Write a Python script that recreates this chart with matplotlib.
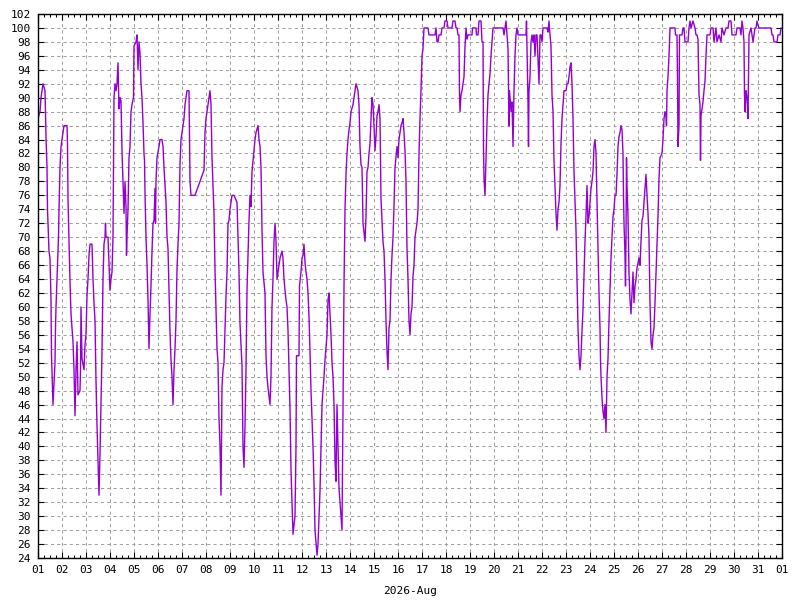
import matplotlib
matplotlib.use('Agg')
import matplotlib.pyplot as plt
from matplotlib.ticker import MultipleLocator, FixedLocator
import numpy as np

# relative humidity: (hours since 2026-08-01 00:00, %)
aug_01_08 = [
    (0, 87), (2, 88), (3, 90), (4, 91), (5, 92), (7, 91), (8, 84.4), (9, 80), (9.5, 74), (11, 68), (12, 67),
    (13, 61), (13.5, 53), (15, 46), (17, 52), (17.5, 57), (18, 60), (19, 64), (20.5, 70), (21, 74), (22, 80),
    (23, 83), (24, 84), (25, 85), (26, 86), (29, 86), (29.5, 83.4), (30, 75.4), (32, 63.6), (33, 59), (35, 55),
    (36, 51), (37, 44.4), (38, 51), (39, 55), (40, 47.4), (42, 48), (42.5, 51), (43, 60), (44, 52.6), (46, 51),
    (47, 54.6), (48, 56), (49, 61.6), (50, 64), (51, 67.4), (52, 69), (54, 69), (55, 64), (56, 60.6), (57, 58),
    (58, 49.4), (59, 43), (60, 38), (61, 33), (62, 39), (63, 46.6), (64, 53.6), (65, 64), (66, 69), (67, 70),
    (67.5, 72), (68, 70), (70, 70), (71, 66), (72, 62.4), (73, 64), (74, 65), (75, 70), (76, 90), (77, 92),
    (78, 91), (79, 92), (80, 95), (81, 88.4), (82, 90), (83, 89.5), (84, 82.4), (85, 78), (86, 73.4), (87, 78),
    (88, 74.4), (88.5, 67.4), (89, 70), (90, 74), (91, 81.4), (92, 83), (93, 88), (94, 89), (95.5, 90),
    (96, 97.4), (98, 98), (99, 99), (100, 94), (101, 98), (102, 96.4), (103, 92), (104, 90), (105, 86.4),
    (106, 82), (106.5, 81), (107, 76.4), (108, 70), (109, 66), (110, 61), (111, 54), (112, 59), (113, 63),
    (114, 68), (115, 72), (116, 72.4), (117, 77), (117.5, 72), (118, 78), (119, 81.4), (121, 83), (122, 84),
    (124, 84), (125, 83), (126, 80), (128, 75), (129, 70), (130, 68.4), (131, 62.4), (132, 56.4), (133, 52.4),
    (134, 50), (135, 46), (136, 51), (137, 54), (138, 58), (139, 65.4), (140, 69), (141, 72), (142, 80.4),
    (143, 84), (145, 86), (146, 87), (147, 89), (148, 90), (149, 91), (151, 91), (152, 78), (153, 76), (157, 76),
    (166, 79.6), (167, 85), (168, 87), (169, 88), (170, 89), (171, 90), (172, 91), (173, 89), (174, 81.4),
    (176, 73.4), (177, 65.4), (178, 60), (179, 54), (180, 52), (181, 44), (182, 40), (183, 33), (184, 48.6),
    (185, 51), (186, 52), (187, 56.6), (188, 61.6), (189, 65), (190, 72), (191, 72.4), (192, 74), (193, 75),
    (194, 76), (196, 76),
]
aug_09_16 = [
    (199, 75), (200, 70), (201, 65), (202, 57.6), (204, 51.6), (205, 40), (206, 37), (207, 43), (208, 51),
    (209, 62.4), (210, 67.4), (211, 72.4), (212, 76), (213, 74.4), (214, 79.4), (216, 82.4), (217, 84), (218, 85),
    (220, 86), (221, 84), (222, 83), (223, 80), (224, 71), (225, 65), (227, 62), (228, 53), (229, 50), (230, 48.4),
    (232, 46), (233, 50), (234, 60), (235, 64), (236, 69.4), (237, 72), (238, 69.4), (239, 64), (240, 65),
    (241, 66), (242, 67), (244, 68), (245, 67), (246, 64), (247, 62.4), (248, 61), (249, 60), (250, 56.6),
    (251, 51), (252, 45.4), (253, 36.6), (254, 32), (255, 27.4), (257, 30), (258, 40), (258.5, 53), (261, 53),
    (261.5, 63), (263, 65), (264, 67), (265, 67.4), (266, 69), (267, 66.4), (268, 65), (269, 64), (270, 62),
    (271, 58.6), (272, 53.6), (273, 48), (275, 40), (276, 34.6), (277, 28), (279, 24.4), (280, 26), (281, 30),
    (282, 33.6), (283, 40), (284, 46), (285, 48), (286, 50), (287, 52.4), (289, 56), (290, 61), (291, 62),
    (292, 59), (293, 56), (294, 52), (295, 50), (296, 46), (297, 38), (298, 35), (299, 46), (300, 40), (301, 34),
    (302, 32), (303, 30), (304, 28), (305, 46), (306, 63), (307, 74), (308, 79), (309, 82), (310, 84),
    (311, 85.4), (312, 86.4), (313, 88), (315, 89), (316, 90), (317, 91), (318, 92), (320, 91), (321, 89),
    (322, 83), (323, 80.4), (324, 80), (325, 72), (327, 69.4), (328, 73), (329, 79.4), (330, 80), (331, 82),
    (332, 83.4), (333, 87), (334, 90), (335, 89), (336, 86), (337, 82.4), (338, 84.4), (339, 87.4), (340, 88),
    (341, 89), (342, 87), (343, 75.4), (345, 69.4), (346, 68), (347, 64), (348, 58), (349, 53.6), (350, 51),
    (351, 57), (352, 58), (353, 64), (354, 67.4), (355, 70), (356, 74.4), (357, 80), (359, 83), (360, 81.4),
    (361, 84), (362, 85), (363, 86), (364, 86.4), (365, 87), (366, 85), (367, 82.4), (368, 78), (369, 68.4),
    (370, 64), (371, 58), (372, 56), (373, 59), (374, 60), (375, 64.4), (376, 66), (377, 70),
]
aug_17_24 = [
    (379, 72), (380, 74), (381, 82), (382, 87), (383, 91), (384, 96), (385, 97), (386, 100), (390, 100),
    (391, 99), (397, 99), (398, 100), (399, 98), (400, 98), (401, 99), (403, 99), (404, 100), (406, 100),
    (407, 101), (409, 101), (410, 100), (414, 100), (415, 101), (417, 101), (418, 100), (419, 100), (420, 99),
    (421, 99), (421.5, 90.4), (422, 88), (423, 90.4), (424, 91), (425, 92), (426, 93), (427, 97.4), (428, 100),
    (429, 98.4), (430, 99), (434, 99), (434.5, 100), (438, 100), (438.5, 99), (440, 99), (441, 101), (443, 101),
    (444, 98), (445, 98), (445.5, 83), (446, 78.4), (447, 76), (448, 81.4), (449, 86.4), (450, 90.4), (451, 92),
    (452, 93.4), (453, 96), (454, 98), (455, 100), (465, 100), (466, 99), (468, 101), (469, 99), (470, 97),
    (471, 86), (471.5, 91), (472, 90), (473, 88), (474, 89.4), (475, 83), (476, 91), (477, 96), (478, 99),
    (479, 100), (480, 99), (488, 99), (488.5, 101), (489, 97), (490, 89.4), (490.5, 83), (491, 91), (492, 93),
    (493, 98), (494, 99), (495, 98), (496, 99), (497, 96), (498, 99), (499, 99), (501, 92), (502, 99), (503, 99),
    (504, 98), (505, 100), (509, 100), (510, 99.4), (511, 101), (512, 99), (513, 97.4), (514, 90.4), (515, 88),
    (516, 81), (517, 77.4), (518, 73.4), (519, 71), (520, 74), (521, 75), (522, 77.4), (523, 83.4), (524, 87),
    (525, 89), (526, 91), (528, 91), (529, 92), (530, 92), (531, 93), (532, 94.4), (533, 95), (534, 92),
    (535, 87), (536, 79.4), (537, 75), (538, 71), (539, 64), (540, 57), (541, 53), (542, 51), (543, 53),
    (544, 56.6), (545, 59.6), (546, 64.4), (547, 69.4), (548, 73), (549, 77.4), (550, 72), (551, 73), (552, 75),
    (553, 77), (554, 78), (555, 79.4), (556, 83), (557, 84), (558, 82), (559, 75), (560, 68.4), (561, 62),
    (562, 57), (562.5, 52.4), (563, 50), (564, 47), (565, 45), (566, 44), (567, 46), (568, 42), (569, 50),
    (570, 52.6), (571, 58), (572, 62.4), (573, 67), (574, 70), (575, 73), (576, 74), (577, 76),
]
aug_25_31 = [
    (578, 76), (579, 79), (580, 83), (581, 84.4), (582, 85), (583, 86), (584, 85.4), (585, 82), (585.5, 76),
    (586, 72), (587, 67.4), (587.5, 63), (588, 70), (588.5, 81.4), (589, 77.4), (590, 73), (591, 65), (592, 61),
    (593, 59), (594, 62), (595, 65), (596, 60.6), (597, 63), (598, 64), (599, 65.6), (601, 67), (602, 66),
    (603, 69.4), (604, 72.4), (605, 73), (606, 75), (607, 77), (608, 79), (609, 76), (610, 73.4), (611, 70),
    (612, 60.4), (612.5, 58), (613, 55), (614, 54), (615, 56), (616, 57), (617, 60.6), (618, 65), (619, 69),
    (620, 73), (621, 78.4), (622, 81.4), (624, 82), (625, 84), (626, 87), (627, 88), (628, 87.4), (628.5, 86),
    (629, 91), (630, 93), (631, 96), (632, 100), (637, 100), (637.5, 99), (639, 99), (639.5, 93), (640, 83),
    (641, 86), (641.5, 99), (644, 99), (645, 100), (646, 100), (647, 98), (650, 98), (651, 100), (652, 101),
    (653, 100), (655, 101), (657, 100), (658, 99), (659, 99), (660, 98.4), (661, 90.4), (662, 89), (662.5, 81),
    (663, 87.4), (664, 88.4), (665, 89.4), (666, 91), (667, 92.4), (668, 96), (669, 99), (672, 99), (673, 100),
    (675, 100), (676, 98), (678, 100), (679, 98), (681, 99), (683, 98), (684, 100), (686, 99), (688, 100),
    (690, 100), (691, 101), (693, 101), (694, 99), (698, 99), (699, 100), (702, 100), (703, 99), (704, 101),
    (705, 100), (706, 98), (706.5, 90.4), (707, 88), (708, 91), (709, 90), (710, 87), (710.5, 93), (711, 99),
    (713, 100), (714, 99), (715, 98), (716, 99), (717, 100), (718, 100), (719, 101), (720, 100.4), (721, 100),
    (733, 100), (734, 99), (735, 99), (736, 98), (739, 98), (740, 99), (742, 99), (743, 100),
]

day_labels = ['%02d' % d for d in range(1, 32)] + ['01']
month_label = '2026-Aug'

records = aug_01_08 + aug_09_16 + aug_17_24 + aug_25_31
hours = np.array([r[0] for r in records], dtype=float)
humidity = np.array([r[1] for r in records], dtype=float)
days = hours / 24.0

plt.rcParams['font.family'] = ['DejaVu Sans Mono']
plt.rcParams['font.size'] = 8

fig = plt.figure(figsize=(8, 6), dpi=100)
ax = fig.add_axes([38 / 800, 42 / 600, 744 / 800, 544 / 600])

ax.plot(days, humidity, color='#9400d3', linewidth=1.0)

ax.set_xlim(0, 31)
ax.set_ylim(24, 102)
ax.xaxis.set_major_locator(FixedLocator(range(32)))
ax.set_xticklabels(day_labels)
ax.xaxis.set_minor_locator(MultipleLocator(0.25))
ax.yaxis.set_major_locator(MultipleLocator(2))

ax.grid(True, which='major', color='#a0a0a0', linestyle=(0, (3, 3)), linewidth=0.75)
ax.tick_params(which='both', direction='in', top=True, right=True, color='black', width=0.8)
ax.tick_params(which='major', length=4.5, pad=5)
ax.tick_params(which='minor', length=2.5)
ax.tick_params(axis='y', which='minor', left=False, right=False)
for s in ax.spines.values():
    s.set_linewidth(1.0)
    s.set_color('black')

ax.set_xlabel(month_label, labelpad=8)

plt.savefig('out.png', dpi=100)
